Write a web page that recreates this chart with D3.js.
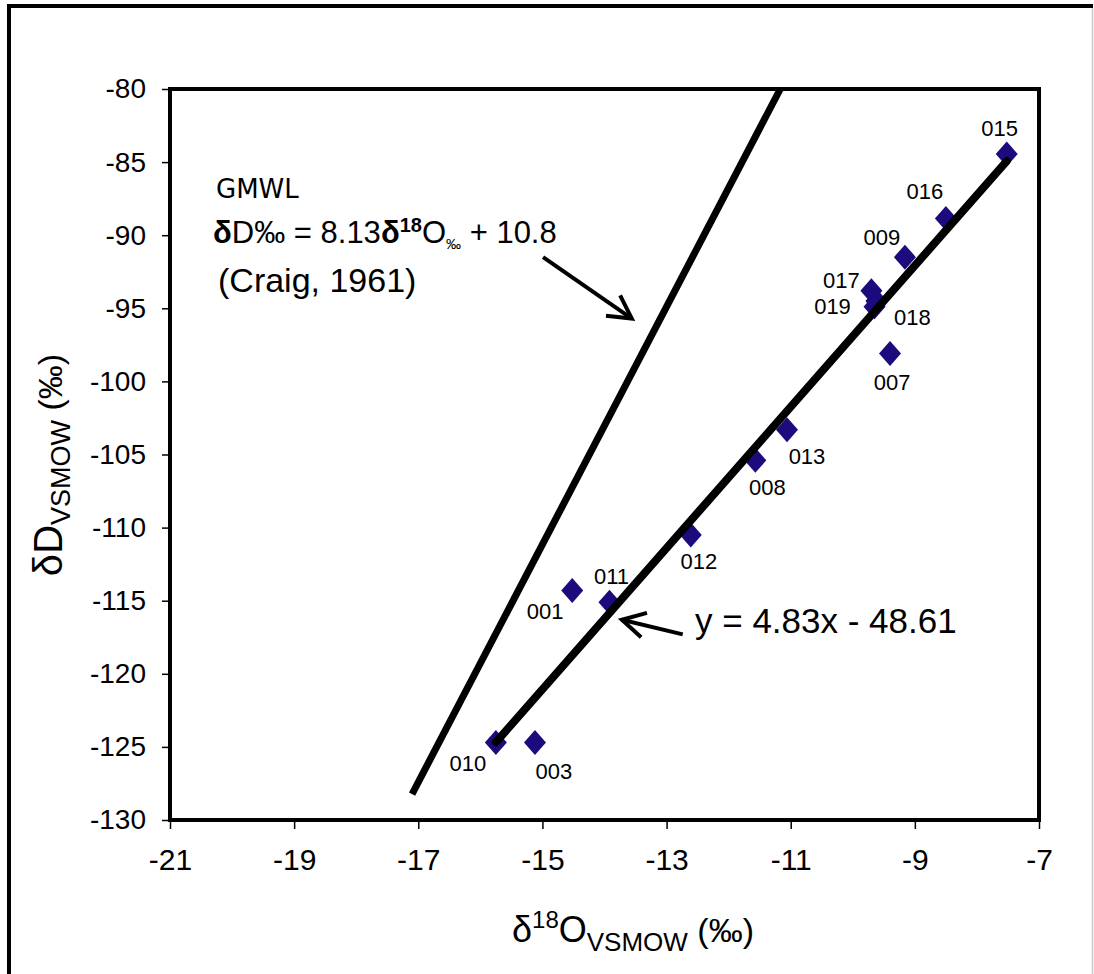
<!DOCTYPE html>
<html><head><meta charset="utf-8">
<script src="https://cdn.jsdelivr.net/npm/d3@7"></script>
<style>body{margin:0;background:#fff}</style>
</head><body>
<svg id="chart" width="1094" height="974"></svg>
<script>
// ---- data ----
const sampleIds = ["001","003","007","008","009","010","011","012","013","015","016","017","018","019"];
const d18O = [-14.52,-15.12,-9.40,-11.57,-9.16,-15.75,-13.92,-12.61,-11.06,-7.52,-8.50,-9.70,-9.62,-9.65];
const dD   = [-114.3,-124.7,-98.1,-105.4,-91.5,-124.7,-115.1,-110.5,-103.3,-84.45,-88.85,-93.8,-94.5,-94.9];
const xTicks = [-21,-19,-17,-15,-13,-11,-9,-7];
const yTicks = [-130,-125,-120,-115,-110,-105,-100,-95,-90,-85,-80];
const regSlope = 4.83, regIntercept = -48.61;
const gmwlSlope = 8.13, gmwlIntercept = 10.8;
const gmwlXStart = -17.1;

// ---- layout ----
const labelOffset = {
  "001":[-27,21],"003":[19,28],"007":[2,28],"008":[12,27],"009":[-23,-20],"010":[-28,20],
  "011":[2,-26],"012":[8,26],"013":[20,26],"015":[-7,-26],"016":[-21,-27],"017":[-30,-11],
  "018":[36,16],"019":[-42,-1]
};
const svg = d3.select("#chart");
const L = 170, R = 1039, T = 89, B = 820;
const x = d3.scaleLinear().domain([-21,-7]).range([L,R]);
const y = d3.scaleLinear().domain([-130,-80]).range([B,T]);
const data = sampleIds.map((id,i)=>({id, x:d18O[i], y:dD[i]}));
const fmt = d => String(d);

// outer border
svg.append("line").attr("x1",9).attr("x2",9).attr("y1",4).attr("y2",974).attr("stroke","#000").attr("stroke-width",4);
svg.append("line").attr("x1",7).attr("x2",1093).attr("y1",6).attr("y2",6).attr("stroke","#000").attr("stroke-width",4);
svg.append("line").attr("x1",1092.5).attr("x2",1092.5).attr("y1",8).attr("y2",974).attr("stroke","#c8c8c8").attr("stroke-width",1.5);

// axes
const yAxis = svg.append("g").attr("transform",`translate(${L},0)`)
  .call(d3.axisLeft(y).tickValues(yTicks).tickSize(8).tickPadding(16).tickFormat(fmt));
const xAxis = svg.append("g").attr("transform",`translate(0,${B})`)
  .call(d3.axisBottom(x).tickValues(xTicks).tickSize(9).tickPadding(20).tickFormat(fmt));
[yAxis,xAxis].forEach(g=>{
  g.select(".domain").remove();
  g.selectAll(".tick line").attr("stroke","#000").attr("stroke-width",1.5);
  g.selectAll(".tick text").attr("fill","#000").style("font-family","'Liberation Sans', Arial, sans-serif");
});
yAxis.selectAll(".tick text").style("font-size","28px");
xAxis.selectAll(".tick text").style("font-size","30px");

// frame
svg.append("rect").attr("x",L).attr("y",T).attr("width",R-L).attr("height",B-T)
  .attr("fill","none").attr("stroke","#000").attr("stroke-width",4);

// markers
const diamond = "M0,-12.5L11,0L0,12.5L-11,0Z";
svg.append("g").selectAll("path").data(data).join("path")
  .attr("d",diamond).attr("transform",d=>`translate(${x(d.x)},${y(d.y)})`)
  .attr("fill","#1b0b7d");

// point labels
svg.append("g").selectAll("text").data(data).join("text")
  .attr("x",d=>x(d.x)+labelOffset[d.id][0]).attr("y",d=>y(d.y)+labelOffset[d.id][1]+8)
  .attr("text-anchor","middle").style("font-family","'Liberation Sans', Arial, sans-serif")
  .style("font-size","22px").text(d=>d.id);

// regression line
const xr = d3.extent(d18O);
svg.append("line")
  .attr("x1",x(xr[0])).attr("y1",y(regSlope*xr[0]+regIntercept))
  .attr("x2",x(xr[1])).attr("y2",y(regSlope*xr[1]+regIntercept))
  .attr("stroke","#000").attr("stroke-width",8).attr("stroke-linecap","round");

// GMWL line
const gx2 = (-80 - gmwlIntercept)/gmwlSlope;
svg.append("line")
  .attr("x1",x(gmwlXStart)).attr("y1",y(gmwlSlope*gmwlXStart+gmwlIntercept))
  .attr("x2",x(gx2)).attr("y2",y(-80))
  .attr("stroke","#000").attr("stroke-width",7);

// arrows
function arrow(x1,y1,x2,y2,len){
  const a = Math.atan2(y2-y1,x2-x1);
  const g = svg.append("g").attr("stroke","#000").attr("stroke-width",4).attr("fill","none").attr("stroke-linecap","butt");
  g.append("line").attr("x1",x1).attr("y1",y1).attr("x2",x2).attr("y2",y2);
  const p = [a+Math.PI-0.5, a+Math.PI+0.5].map(t=>[x2+len*Math.cos(t), y2+len*Math.sin(t)]);
  g.append("path").attr("d",`M${p[0][0]},${p[0][1]}L${x2},${y2}L${p[1][0]},${p[1][1]}`).attr("stroke-linejoin","miter");
}
arrow(x(-14.99),y(-91.5),x(-13.56),y(-95.7),26);
arrow(x(-12.74),y(-117.3),x(-13.72),y(-116.3),26);

// annotation texts
const ff = "'Liberation Sans', Arial, sans-serif";
svg.append("text").attr("x",216).attr("y",198).style("font-family","'DejaVu Sans', sans-serif").style("font-size","26px").text("GMWL");
const t2 = svg.append("text").attr("x",213).attr("y",243).style("font-family",ff).style("font-size","31px");
t2.append("tspan").style("font-weight","bold").text("δ");
t2.append("tspan").text("D‰ = 8.13");
t2.append("tspan").style("font-weight","bold").text("δ");
t2.append("tspan").style("font-weight","bold").style("font-size","20px").attr("dy",-11).text("18");
t2.append("tspan").attr("dy",11).text("O");
t2.append("tspan").style("font-size","15px").attr("dy",6).text("‰");
t2.append("tspan").attr("dy",-6).text(" + 10.8");
svg.append("text").attr("x",218).attr("y",292).style("font-family",ff).style("font-size","34px").text("(Craig, 1961)");
svg.append("text").attr("x",695).attr("y",633).style("font-family",ff).style("font-size","35px").text("y = 4.83x - 48.61");

// axis titles
const yt = svg.append("text").attr("transform","translate(62,465) rotate(-90)").attr("text-anchor","middle")
  .style("font-family",ff);
yt.append("tspan").style("font-size","40px").text("δD");
yt.append("tspan").style("font-size","27px").attr("dy",8).text("VSMOW");
yt.append("tspan").style("font-size","34px").attr("dy",-8).text(" (‰)");

const xt = svg.append("text").attr("x",633).attr("y",942).attr("text-anchor","middle").style("font-family",ff);
xt.append("tspan").style("font-size","36px").text("δ");
xt.append("tspan").style("font-size","24px").attr("dy",-14).text("18");
xt.append("tspan").style("font-size","36px").attr("dy",14).text("O");
xt.append("tspan").style("font-size","26px").attr("dy",9).text("VSMOW");
xt.append("tspan").style("font-size","34px").attr("dy",-9).text(" (‰)");
</script>
</body></html>
